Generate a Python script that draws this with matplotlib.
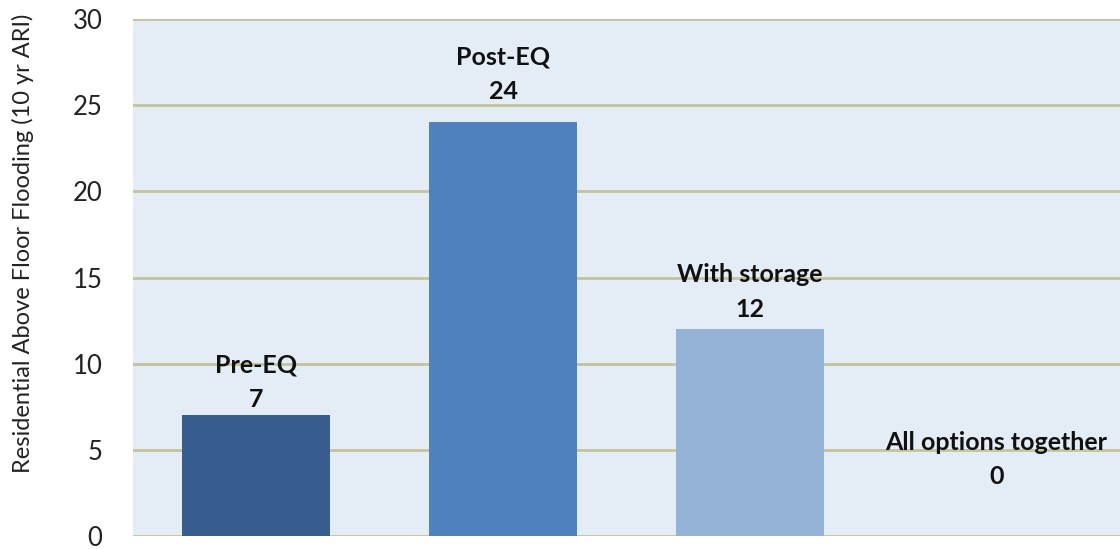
import matplotlib.pyplot as plt

plt.rcParams["font.family"] = ["Lato", "DejaVu Sans"]

# chart data
categories = ["Pre-EQ", "Post-EQ", "With storage", "All options together"]
values = [7, 24, 12, 0]
bar_colors = ["#375d8f", "#4f81bd", "#95b3d7", "#95b3d7"]
y_ticks = [0, 5, 10, 15, 20, 25, 30]

# extra lift (points) of each data label above its bar, as placed in the original
label_lift = [1, 12, 4, 0]

fig = plt.figure(figsize=(11.2, 5.49), dpi=100)
ax = fig.add_axes([133 / 1120, 13 / 549, 987 / 1120, 517 / 549])
ax.set_facecolor("#e4ecf6")

x = list(range(len(categories)))
ax.bar(x, values, width=0.6, color=bar_colors, zorder=3)

# data labels (category name + value), bold, above each bar
for xi, cat, val, lift in zip(x, categories, values, label_lift):
    y = val if val > 0 else 2.6  # zero bar label floats above the axis
    ax.annotate(f"{cat}\n{val}", (xi, y), xytext=(0, 2 + lift), textcoords="offset points",
                ha="center", va="bottom", fontsize=18, fontweight="bold",
                linespacing=1.6, color="#111111", zorder=4)

ax.set_xlim(-0.5, len(categories) - 0.5)
ax.set_ylim(0, 30)
ax.set_yticks(y_ticks)
ax.set_yticklabels([str(t) for t in y_ticks], fontsize=18.5, color="#222222")
ax.set_xticks([])
ax.tick_params(axis="y", length=0, pad=22)
ax.yaxis.grid(True, color="#c3c39c", linewidth=2, zorder=1)
ax.set_axisbelow(True)
for s in ax.spines.values():
    s.set_visible(False)
ax.set_ylabel("Residential Above Floor Flooding (10 yr ARI)", fontsize=17, color="#222222")
ax.yaxis.set_label_coords(-0.10, 0.566)

fig.savefig("out.png", dpi=100)
